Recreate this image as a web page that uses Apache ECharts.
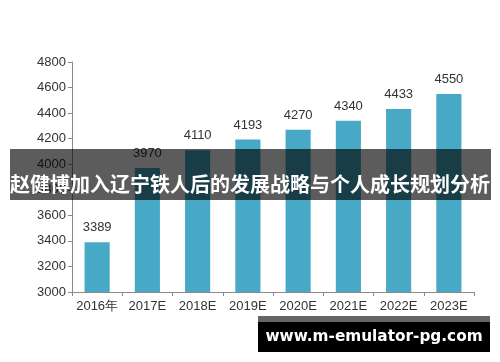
<!DOCTYPE html>
<html><head><meta charset="utf-8">
<script src="https://cdn.jsdelivr.net/npm/echarts@6/dist/echarts.min.js"></script>
<style>html,body{margin:0;padding:0;background:#fff}#c{width:500px;height:362px}</style>
</head><body><div id="c"></div>
<script>
const categories = ['2016年','2017E','2018E','2019E','2020E','2021E','2022E','2023E'];
const values = [3389, 3970, 4110, 4193, 4270, 4340, 4433, 4550];
const yTicks = [3000, 4800, 200];
const titleText = '赵健博加入辽宁铁人后的发展战略与个人成长规划分析';
const urlText = 'www.m-emulator-pg.com';

const chart = echarts.init(document.getElementById('c'), null, {renderer:'canvas'});
const ff = '"Liberation Sans", Arial, sans-serif';
chart.setOption({
  animation: false,
  grid: {left: 72, right: 26, top: 62, bottom: 70},
  xAxis: {
    type: 'category', data: categories, boundaryGap: true,
    axisLine: {lineStyle: {color: '#8a8a8a'}},
    axisTick: {show: true, length: 4, lineStyle: {color: '#8a8a8a'}},
    axisLabel: {interval: 0, color: '#333', fontSize: 13, fontFamily: ff, margin: 8}
  },
  yAxis: {
    type: 'value', min: yTicks[0], max: yTicks[1], interval: yTicks[2],
    splitLine: {show: false},
    axisLine: {show: true, lineStyle: {color: '#8a8a8a'}},
    axisTick: {show: true, length: 4, lineStyle: {color: '#8a8a8a'}},
    axisLabel: {color: '#333', fontSize: 13, fontFamily: ff, margin: 6, formatter: v => String(v)}
  },
  series: [{
    type: 'bar', data: values, barWidth: '50%',
    itemStyle: {color: '#47a9c5'},
    label: {show: true, position: 'top', distance: 8, color: '#333', fontSize: 13, fontFamily: ff}
  }],
  graphic: [
    {type: 'rect', left: 10, top: 149, shape: {width: 481, height: 51}, style: {fill: 'rgba(0,0,0,0.64)'}, z: 100},
    {type: 'text', x: 250, y: 184, style: {text: titleText, fill: '#fff', font: 'bold 20px "Noto Sans CJK SC", sans-serif', textAlign: 'center', textVerticalAlign: 'middle'}, z: 101},
    {type: 'rect', left: 258, top: 316, shape: {width: 232, height: 7}, style: {fill: 'rgba(0,0,0,0.6)'}, z: 100},
    {type: 'rect', left: 258, top: 322, shape: {width: 232, height: 30}, style: {fill: '#000'}, z: 100},
    {type: 'text', x: 374, y: 337, style: {text: urlText, fill: '#fff', font: 'bold 15.3px "DejaVu Sans", sans-serif', textAlign: 'center', textVerticalAlign: 'middle'}, z: 101}
  ]
});
</script></body></html>
